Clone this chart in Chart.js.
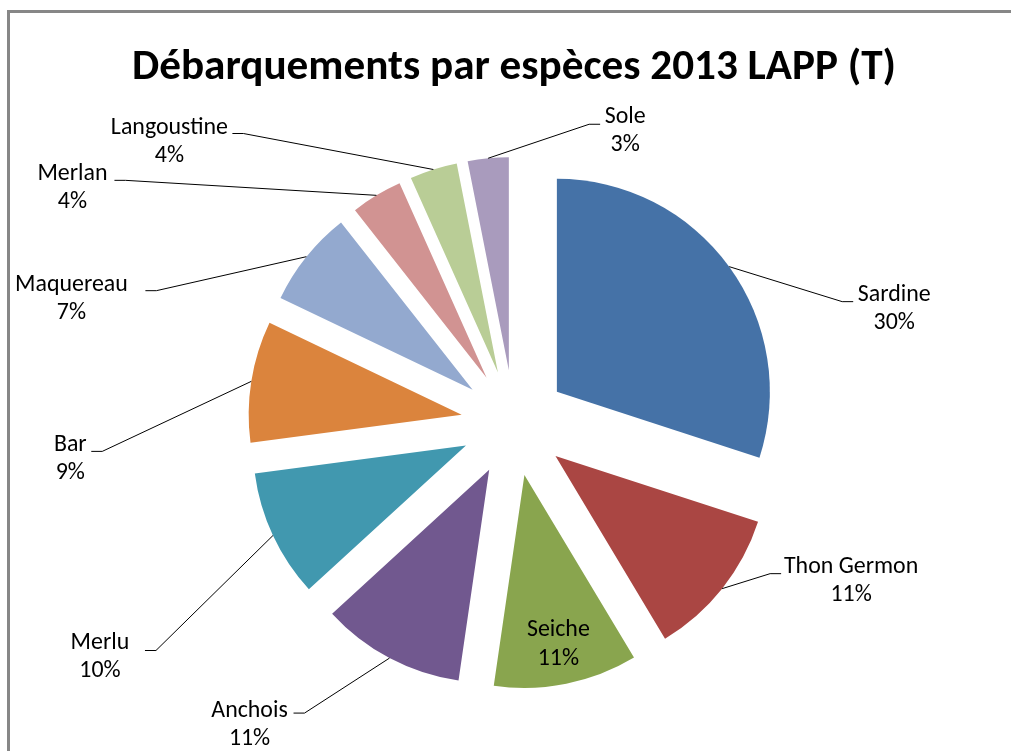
<!DOCTYPE html>
<html><head><meta charset="utf-8">
<script src="https://cdn.jsdelivr.net/npm/chart.js@4.4.1/dist/chart.umd.min.js"></script>
<style>html,body{margin:0;padding:0;background:#fff;overflow:hidden}#wrap{width:1011px;height:751px;position:relative}</style>
</head><body><div id="wrap"><canvas id="c"></canvas></div>
<script>
// ---- data ----
const categories = ['Sardine','Thon Germon','Seiche','Anchois','Merlu','Bar','Maquereau','Merlan','Langoustine','Sole'];
const shares = [30.0, 11.4, 10.9, 10.9, 9.7, 9.2, 7.3, 3.9, 3.6, 3.1];
const colors = ['#4572A7','#AA4643','#89A54E','#71588F','#4198AF','#DB843D','#93A9CF','#D19392','#B9CD96','#A99BBD'];
const titleText = 'Débarquements par espèces 2013 LAPP (T)';
// ---- label layout (px, relative to each slice's outer edge point); null = label inside slice ----
const leaderEnds  = [[124,35],[59,-15],null,[-96,55],[-128,115],[-160,70],[-161,34],[-262,-15],[-201,-36],[112,-34]];
const textCentres = [[165,28],[129,-22],null,[-140,53],[-173,108],[-181,64],[-235,28],[-304,-21],[-264,-41],[137,-41]];
const EXPLODE = 53, RADIUS = 213, CENTER_Y = 423;
const FONT = 'Carlito, Lato, "Liberation Sans", sans-serif';

const mctx = document.createElement('canvas').getContext('2d');
function fit(text, weight, target, base){ mctx.font = weight + ' ' + base + 'px ' + FONT; return base * target / mctx.measureText(text).width; }
const titleSize = Math.round(fit(titleText, 'bold', 765, 40) * 10) / 10;
const labelSize = Math.round(fit('Langoustine', 'normal', 117, 20) * 10) / 10;

const titlePadTop = 42, titlePadBottom = 20;
const areaTop = titlePadTop + titleSize * 1.2 + titlePadBottom;
const padBottom = 751 - (2 * CENTER_Y - areaTop);

const framePlugin = { id: 'frame', beforeDraw(chart){
  const c = chart.ctx; c.save(); c.strokeStyle = '#878787'; c.lineWidth = 3;
  c.beginPath(); c.moveTo(8.5, chart.height + 5); c.lineTo(8.5, 11.5); c.lineTo(chart.width + 5, 11.5); c.stroke();
  c.restore();
} };

const explodePlugin = { id: 'explode', beforeDatasetDraw(chart, args){
  const ctx = chart.ctx;
  args.meta.data.forEach(arc => {
    const mid = (arc.startAngle + arc.endAngle) / 2;
    ctx.save();
    ctx.translate(Math.cos(mid) * EXPLODE, Math.sin(mid) * EXPLODE);
    arc.draw(ctx, chart.chartArea);
    ctx.restore();
  });
  return false;
} };

const labelPlugin = { id: 'pieLabels', afterDatasetsDraw(chart){
  const ctx = chart.ctx; const meta = chart.getDatasetMeta(0);
  const total = shares.reduce((a, b) => a + b, 0);
  ctx.save();
  ctx.font = labelSize + 'px ' + FONT; ctx.fillStyle = '#000'; ctx.textAlign = 'center'; ctx.textBaseline = 'middle';
  meta.data.forEach((arc, i) => {
    const mid = (arc.startAngle + arc.endAngle) / 2, ux = Math.cos(mid), uy = Math.sin(mid);
    const lines = [categories[i], Math.round(shares[i] / total * 100) + '%'];
    if (!leaderEnds[i]) {
      const r = EXPLODE + arc.outerRadius * 0.81;
      const x = arc.x + ux * r, y = arc.y + uy * r;
      ctx.fillText(lines[0], x, y - 14.5); ctx.fillText(lines[1], x, y + 14.5);
      return;
    }
    const er = EXPLODE + arc.outerRadius;
    const ex = arc.x + ux * er, ey = arc.y + uy * er;
    const [lx, ly] = leaderEnds[i];
    const endX = ex + lx, endY = ey + ly, elbowX = endX + (lx > 0 ? -11 : 11);
    ctx.beginPath(); ctx.moveTo(ex, ey); ctx.lineTo(elbowX, endY); ctx.lineTo(endX, endY);
    ctx.strokeStyle = '#000'; ctx.lineWidth = 1; ctx.stroke();
    const [tx, ty] = textCentres[i];
    ctx.fillText(lines[0], ex + tx, ey + ty); ctx.fillText(lines[1], ex + tx, ey + ty + 28);
  });
  ctx.restore();
} };

new Chart(document.getElementById('c'), {
  type: 'pie',
  data: { labels: categories, datasets: [{ data: shares, backgroundColor: colors, borderWidth: 0, radius: RADIUS }] },
  options: {
    responsive: true, maintainAspectRatio: false, animation: false, devicePixelRatio: 1,
    layout: { padding: { left: 20, right: 3, top: 0, bottom: padBottom } },
    plugins: {
      legend: { display: false }, tooltip: { enabled: false },
      title: { display: true, text: titleText, color: '#000', font: { family: FONT, size: titleSize, weight: 'bold', lineHeight: 1.2 }, padding: { top: titlePadTop, bottom: titlePadBottom } }
    }
  },
  plugins: [framePlugin, explodePlugin, labelPlugin]
});
</script>
</body></html>
